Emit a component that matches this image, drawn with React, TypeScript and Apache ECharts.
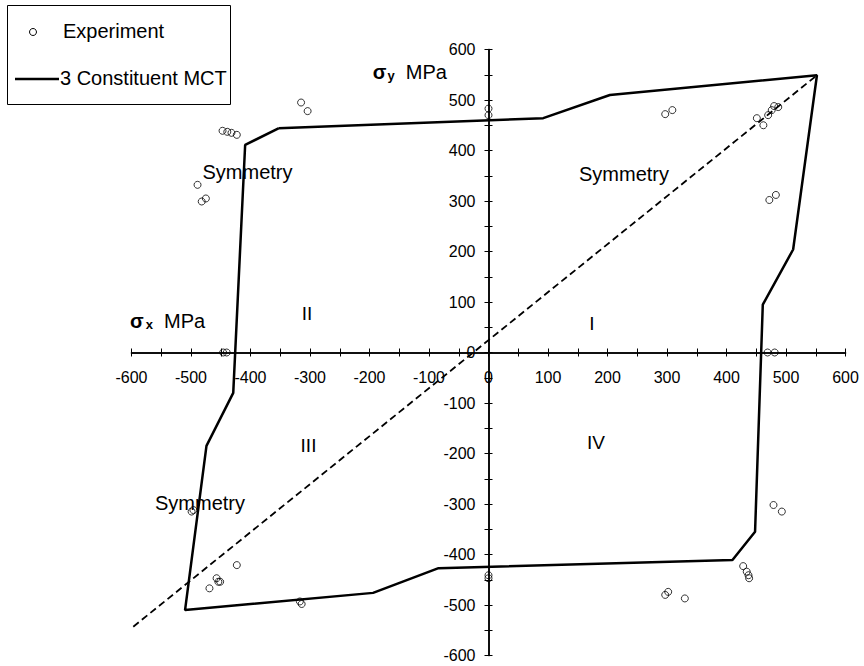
import React, { useEffect, useRef } from "react";
import * as echarts from "echarts";

// 3 Constituent MCT failure envelope (sigma_x, sigma_y) in MPa
const mctEnvelope: [number, number][] = [
  [-353, 444], [92, 464], [204, 510], [552, 549], [512, 204], [461, 95],
  [448, -355], [410, -411], [-84, -427], [-194, -476], [-510, -510],
  [-474, -185], [-429, -80], [-409, 411], [-353, 444],
];

// Symmetry (dashed) line
const symmetryLine: [number, number][] = [
  [-597, -543], [552, 549],
];

// Experimental points (sigma_x, sigma_y)
const experiment: [number, number][] = [
  [-315, 495], [-304, 478],
  [-447, 439], [-439, 437], [-432, 435], [-423, 431],
  [-489, 332], [-482, 299], [-475, 305],
  [0, 483], [0, 470],
  [297, 472], [309, 480],
  [451, 464], [462, 450], [470, 470], [476, 480], [487, 486], [480, 488],
  [472, 302], [483, 312],
  [-446, 0], [-440, 0],
  [469, 0], [481, 0],
  [479, -302], [493, -315],
  [297, -480], [302, -474], [330, -487],
  [428, -423], [434, -434], [437, -441], [438, -447],
  [0, -441], [0, -447],
  [-496, -312], [-499, -315],
  [-423, -421], [-469, -467],
  [-457, -447], [-454, -454], [-451, -454],
  [-317, -493], [-314, -498],
];

const axisMin = -600;
const axisMax = 600;
const axisInterval = 100;

const legendLabels = ["Experiment", "3 Constituent MCT"];
const symmetryText = "Symmetry";
const quadrantLabels = ["I", "II", "III", "IV"];

const FONT = "Liberation Sans, Arial, sans-serif";

export default function App() {
  const ref = useRef<HTMLDivElement>(null);

  useEffect(() => {
    if (!ref.current) return;
    const chart = echarts.init(ref.current, undefined, { renderer: "svg" });

    const gridLeft = 131.5;
    const gridTop = 49.5;
    const gridW = 714;
    const gridH = 606;

    // axes cross at the origin (middle of the symmetric ranges)
    const xOffset = -gridH / 2;
    const yOffset = -gridW / 2;

    const baseAxis = (dim: "x" | "y", main: boolean) => ({
      type: "value",
      min: axisMin,
      max: axisMax,
      interval: axisInterval,
      position: dim === "x" ? "bottom" : "left",
      offset: dim === "x" ? xOffset : yOffset,
      axisLine: { show: true, onZero: false, lineStyle: { color: "#000", width: 1.5 } },
      axisTick: { show: true, inside: !main, length: 4, lineStyle: { color: "#000", width: 1 } },
      minorTick: { show: true, splitNumber: 2, length: 4, lineStyle: { color: "#000", width: 1 } },
      splitLine: { show: false },
      minorSplitLine: { show: false },
      axisLabel: main
        ? {
            show: true,
            color: "#000",
            fontSize: 16,
            fontFamily: FONT,
            margin: dim === "x" ? 17 : 13,
            showMinLabel: true,
            showMaxLabel: true,
            hideOverlap: false,
          }
        : { show: false },
    });

    const option: any = {
      animation: false,
      backgroundColor: "#fff",
      grid: {
        left: gridLeft,
        top: gridTop,
        width: gridW,
        height: gridH,
        containLabel: false,
        outerBoundsMode: "none",
      },
      xAxis: [baseAxis("x", true), baseAxis("x", false)],
      yAxis: [baseAxis("y", true), baseAxis("y", false)],
      series: [
        {
          name: legendLabels[1],
          type: "line",
          data: mctEnvelope,
          showSymbol: false,
          symbol: "none",
          lineStyle: { color: "#000", width: 2.5 },
          z: 3,
        },
        {
          name: "Symmetry",
          type: "line",
          data: symmetryLine,
          showSymbol: false,
          symbol: "none",
          lineStyle: { color: "#000", width: 1.8, type: [7, 4] },
          z: 2,
        },
        {
          name: legendLabels[0],
          type: "scatter",
          data: experiment,
          symbol: "circle",
          symbolSize: 7,
          itemStyle: { color: "rgba(0,0,0,0)", borderColor: "#000", borderWidth: 1 },
          z: 4,
        },
      ],
      graphic: [
        // Legend box
        {
          type: "rect",
          shape: { x: 7.5, y: 5.5, width: 223, height: 99 },
          style: { fill: "#fff", stroke: "#000", lineWidth: 1 },
          z: 10,
        },
        {
          type: "circle",
          shape: { cx: 33, cy: 32, r: 3.5 },
          style: { fill: "none", stroke: "#000", lineWidth: 1 },
          z: 11,
        },
        {
          type: "text",
          x: 63,
          y: 31,
          style: { text: legendLabels[0], fontSize: 20, fontFamily: FONT, fill: "#000", align: "left", verticalAlign: "middle" },
          z: 11,
        },
        {
          type: "line",
          shape: { x1: 15, y1: 79, x2: 59, y2: 79 },
          style: { stroke: "#000", lineWidth: 2.5 },
          z: 11,
        },
        {
          type: "text",
          x: 60,
          y: 78,
          style: { text: legendLabels[1], fontSize: 20, fontFamily: FONT, fill: "#000", align: "left", verticalAlign: "middle" },
          z: 11,
        },
        // Axis titles
        {
          type: "text",
          x: 447,
          y: 72,
          style: {
            text: "{s|σ}{b|y}{t|  MPa}",
            align: "right",
            verticalAlign: "middle",
            rich: {
              s: { fontSize: 20, fontFamily: FONT, fill: "#000", fontWeight: "bold" },
              b: { fontSize: 13, fontFamily: FONT, fill: "#000", fontWeight: "bold", padding: [6, 0, 0, 1] },
              t: { fontSize: 20, fontFamily: FONT, fill: "#000" },
            },
          },
          z: 5,
        },
        {
          type: "text",
          x: 130,
          y: 321,
          style: {
            text: "{s|σ}{b|x}{t|  MPa}",
            align: "left",
            verticalAlign: "middle",
            rich: {
              s: { fontSize: 20, fontFamily: FONT, fill: "#000", fontWeight: "bold" },
              b: { fontSize: 13, fontFamily: FONT, fill: "#000", fontWeight: "bold", padding: [6, 0, 0, 2] },
              t: { fontSize: 20, fontFamily: FONT, fill: "#000" },
            },
          },
          z: 5,
        },
        // Symmetry labels
        ...[
          [247.5, 172],
          [624, 174],
          [200, 503],
        ].map(([x, y]) => ({
          type: "text",
          x,
          y,
          style: { text: symmetryText, fontSize: 20, fontFamily: FONT, fill: "#000", align: "center", verticalAlign: "middle" },
          z: 5,
        })),
        // Quadrant labels
        ...[
          [592, 323.5],
          [307, 313.5],
          [308.5, 445],
          [596, 442],
        ].map(([x, y], i) => ({
          type: "text",
          x,
          y,
          style: { text: quadrantLabels[i], fontSize: 19, fontFamily: FONT, fill: "#000", align: "center", verticalAlign: "middle" },
          z: 5,
        })),
      ],
    };

    chart.setOption(option);
    return () => chart.dispose();
  }, []);

  return (
    <div
      ref={ref}
      style={{ position: "absolute", left: 0, top: 0, width: 864, height: 666, background: "#fff" }}
    />
  );
}
